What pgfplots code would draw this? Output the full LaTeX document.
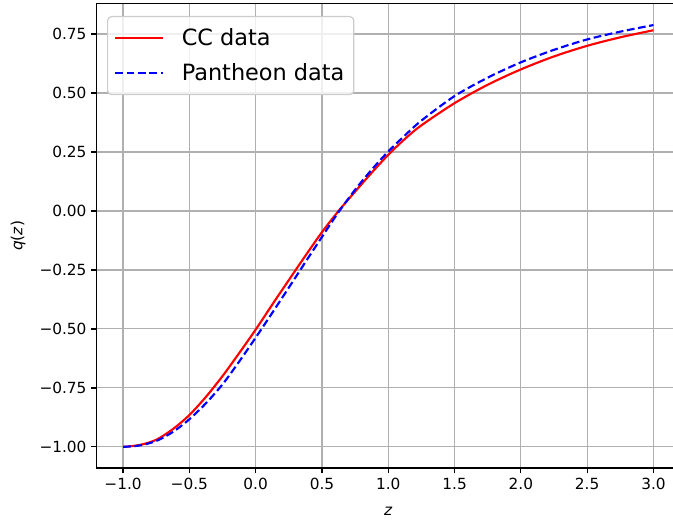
\documentclass[border=0pt]{standalone}
\usepackage{pgfplots}
\pgfplotsset{compat=1.18}
\usepackage{fontspec}
\setmainfont{DejaVu Sans}[ItalicFont={DejaVu Sans Oblique}]
\definecolor{gridgray}{HTML}{B0B0B0}
\definecolor{legedge}{HTML}{CCCCCC}
\pgfplotstableread{
z q
-1.000 -1.000
-0.875 -0.992
-0.750 -0.970
-0.625 -0.925
-0.500 -0.865
-0.375 -0.788
-0.250 -0.700
-0.125 -0.603
0.000 -0.503
0.125 -0.397
0.250 -0.293
0.375 -0.190
0.500 -0.090
0.625 0.000
0.750 0.082
0.875 0.162
1.000 0.238
1.125 0.305
1.250 0.363
1.500 0.457
1.750 0.535
2.000 0.600
2.250 0.655
2.500 0.700
2.750 0.736
3.000 0.766
}\cctable
\pgfplotstableread{
z q
-1.000 -1.000
-0.875 -0.994
-0.750 -0.975
-0.625 -0.937
-0.500 -0.883
-0.375 -0.815
-0.250 -0.735
-0.125 -0.639
0.000 -0.537
0.125 -0.432
0.250 -0.325
0.375 -0.217
0.500 -0.110
0.625 -0.005
0.750 0.090
0.875 0.175
1.000 0.252
1.125 0.320
1.250 0.383
1.500 0.487
1.750 0.565
2.000 0.630
2.250 0.683
2.500 0.727
2.750 0.760
3.000 0.788
}\pantable
\begin{document}
\begin{tikzpicture}
\begin{axis}[
  scale only axis, width=437.6pt, height=348.4pt,
  xmin=-1.2, xmax=3.2, ymin=-1.0895, ymax=0.8795,
  xtick={-1,-0.5,0,0.5,1,1.5,2,2.5,3},
  xticklabels={−1.0,−0.5,0.0,0.5,1.0,1.5,2.0,2.5,3.0},
  ytick={-1,-0.75,-0.5,-0.25,0,0.25,0.5,0.75},
  yticklabels={−1.00,−0.75,−0.50,−0.25,0.00,0.25,0.50,0.75},
  grid=major,
  grid style={color=gridgray, line width=0.85pt},
  axis line style={line width=0.92pt, black},
  tick align=outside, xtick pos=bottom, ytick pos=left,
  major tick length=4pt,
  tick style={black, line width=0.92pt},
  ticklabel style={font=\fontsize{11.5}{13}\selectfont},
  xlabel={\textit{z}},
  ylabel={\textit{q}(\textit{z})},
  label style={font=\fontsize{11.5}{13}\selectfont},
  xlabel style={at={(rel axis cs:0.5,-0.0926)}, anchor=center},
  ylabel style={at={(rel axis cs:-0.1345,0.5)}, anchor=center, rotate=0},
  legend cell align=left,
  legend image code/.code={\draw[#1, line width=1.6pt] (0pt,0pt) -- (36pt,0pt);},
  legend style={at={(0.018,0.973)}, anchor=north west,
    draw=legedge, line width=0.9pt, rounded corners=3pt,
    fill=white, fill opacity=0.8, text opacity=1, draw opacity=1,
    font=\fontsize{16.8}{20}\selectfont,
    inner xsep=5pt, inner ysep=7pt, row sep=8pt, column sep=11pt,
    nodes={inner sep=2pt}},
]
\addplot[red, line width=1.6pt, smooth] table[x=z, y=q] {\cctable};
\addlegendentry{CC data}
\addplot[blue, line width=1.6pt, smooth, dash pattern=on 5.8pt off 2.7pt] table[x=z, y=q] {\pantable};
\addlegendentry{Pantheon data}
\end{axis}
\pgfresetboundingbox
\useasboundingbox (current axis.south west) ++(-72.4pt,-41.25pt) rectangle ++(504.75pt,392.25pt);
\end{tikzpicture}
\end{document}
